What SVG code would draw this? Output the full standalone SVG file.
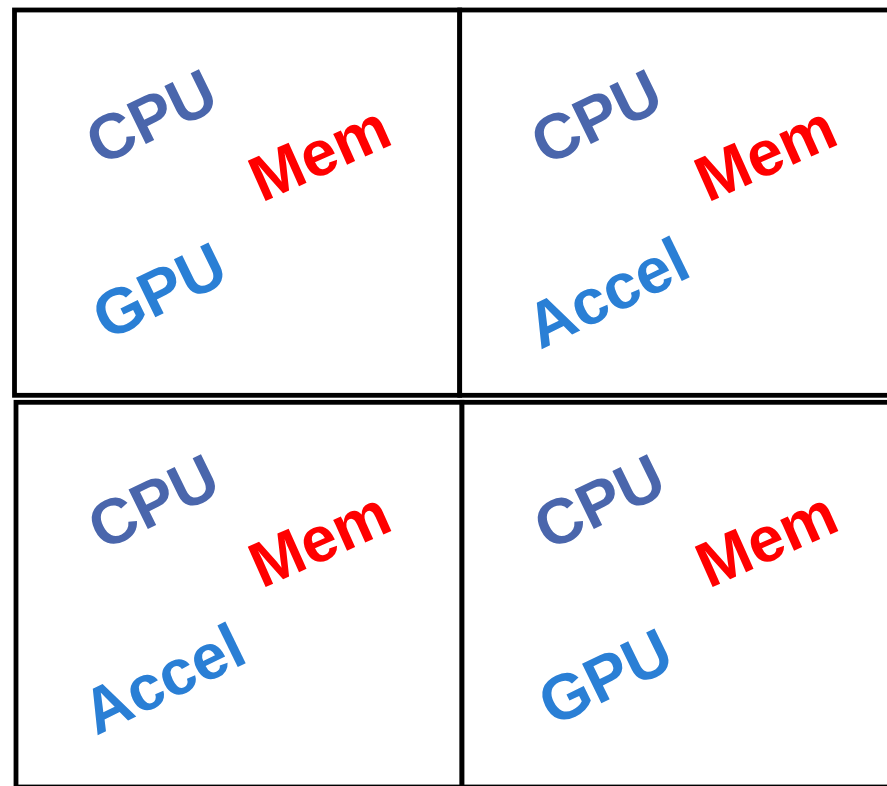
<svg xmlns="http://www.w3.org/2000/svg" width="887" height="786" viewBox="0 0 887 786">
  <style>
    .box { fill: #ffffff; stroke: #000000; stroke-width: 4.8; }
    .lbl { font-family: "Liberation Sans", Arial, sans-serif; font-weight: bold; font-size: 64px; text-anchor: middle; }
    .cpu { fill: #4A66AC; }
    .acc { fill: #2A7FD5; }
    .mem { fill: #FF0000; }
  </style>
  <rect width="887" height="786" fill="#ffffff"/>

  <!-- top-left quadrant -->
  <g id="node-q1">
    <rect class="box" x="14.5" y="10" width="445.2" height="385.3"/>
    <text class="lbl cpu" transform="translate(151,116) rotate(-26)" y="23">CPU</text>
    <text class="lbl mem" transform="translate(319,152) rotate(-24)" y="23">Mem</text>
    <text class="lbl acc" transform="translate(159,290) rotate(-26)" y="23">GPU</text>
  </g>

  <!-- top-right quadrant -->
  <g id="node-q2">
    <rect class="box" x="459.7" y="10" width="460" height="385.3"/>
    <text class="lbl cpu" transform="translate(596,116) rotate(-26)" y="23">CPU</text>
    <text class="lbl mem" transform="translate(765,152) rotate(-24)" y="23">Mem</text>
    <text class="lbl acc" transform="translate(607,292) rotate(-26)" y="23">Accel</text>
  </g>

  <!-- bottom-left quadrant -->
  <g id="node-q3">
    <rect class="box" x="16" y="402.3" width="446" height="384.7"/>
    <text class="lbl cpu" transform="translate(153,501) rotate(-26)" y="23">CPU</text>
    <text class="lbl mem" transform="translate(319,538) rotate(-24)" y="23">Mem</text>
    <text class="lbl acc" transform="translate(163,678) rotate(-26)" y="23">Accel</text>
  </g>

  <!-- bottom-right quadrant -->
  <g id="node-q4">
    <rect class="box" x="462" y="402.3" width="460" height="384.7"/>
    <text class="lbl cpu" transform="translate(599,501) rotate(-26)" y="23">CPU</text>
    <text class="lbl mem" transform="translate(766,538) rotate(-24)" y="23">Mem</text>
    <text class="lbl acc" transform="translate(605,676) rotate(-26)" y="23">GPU</text>
  </g>

  <g id="connectors"></g>
</svg>
